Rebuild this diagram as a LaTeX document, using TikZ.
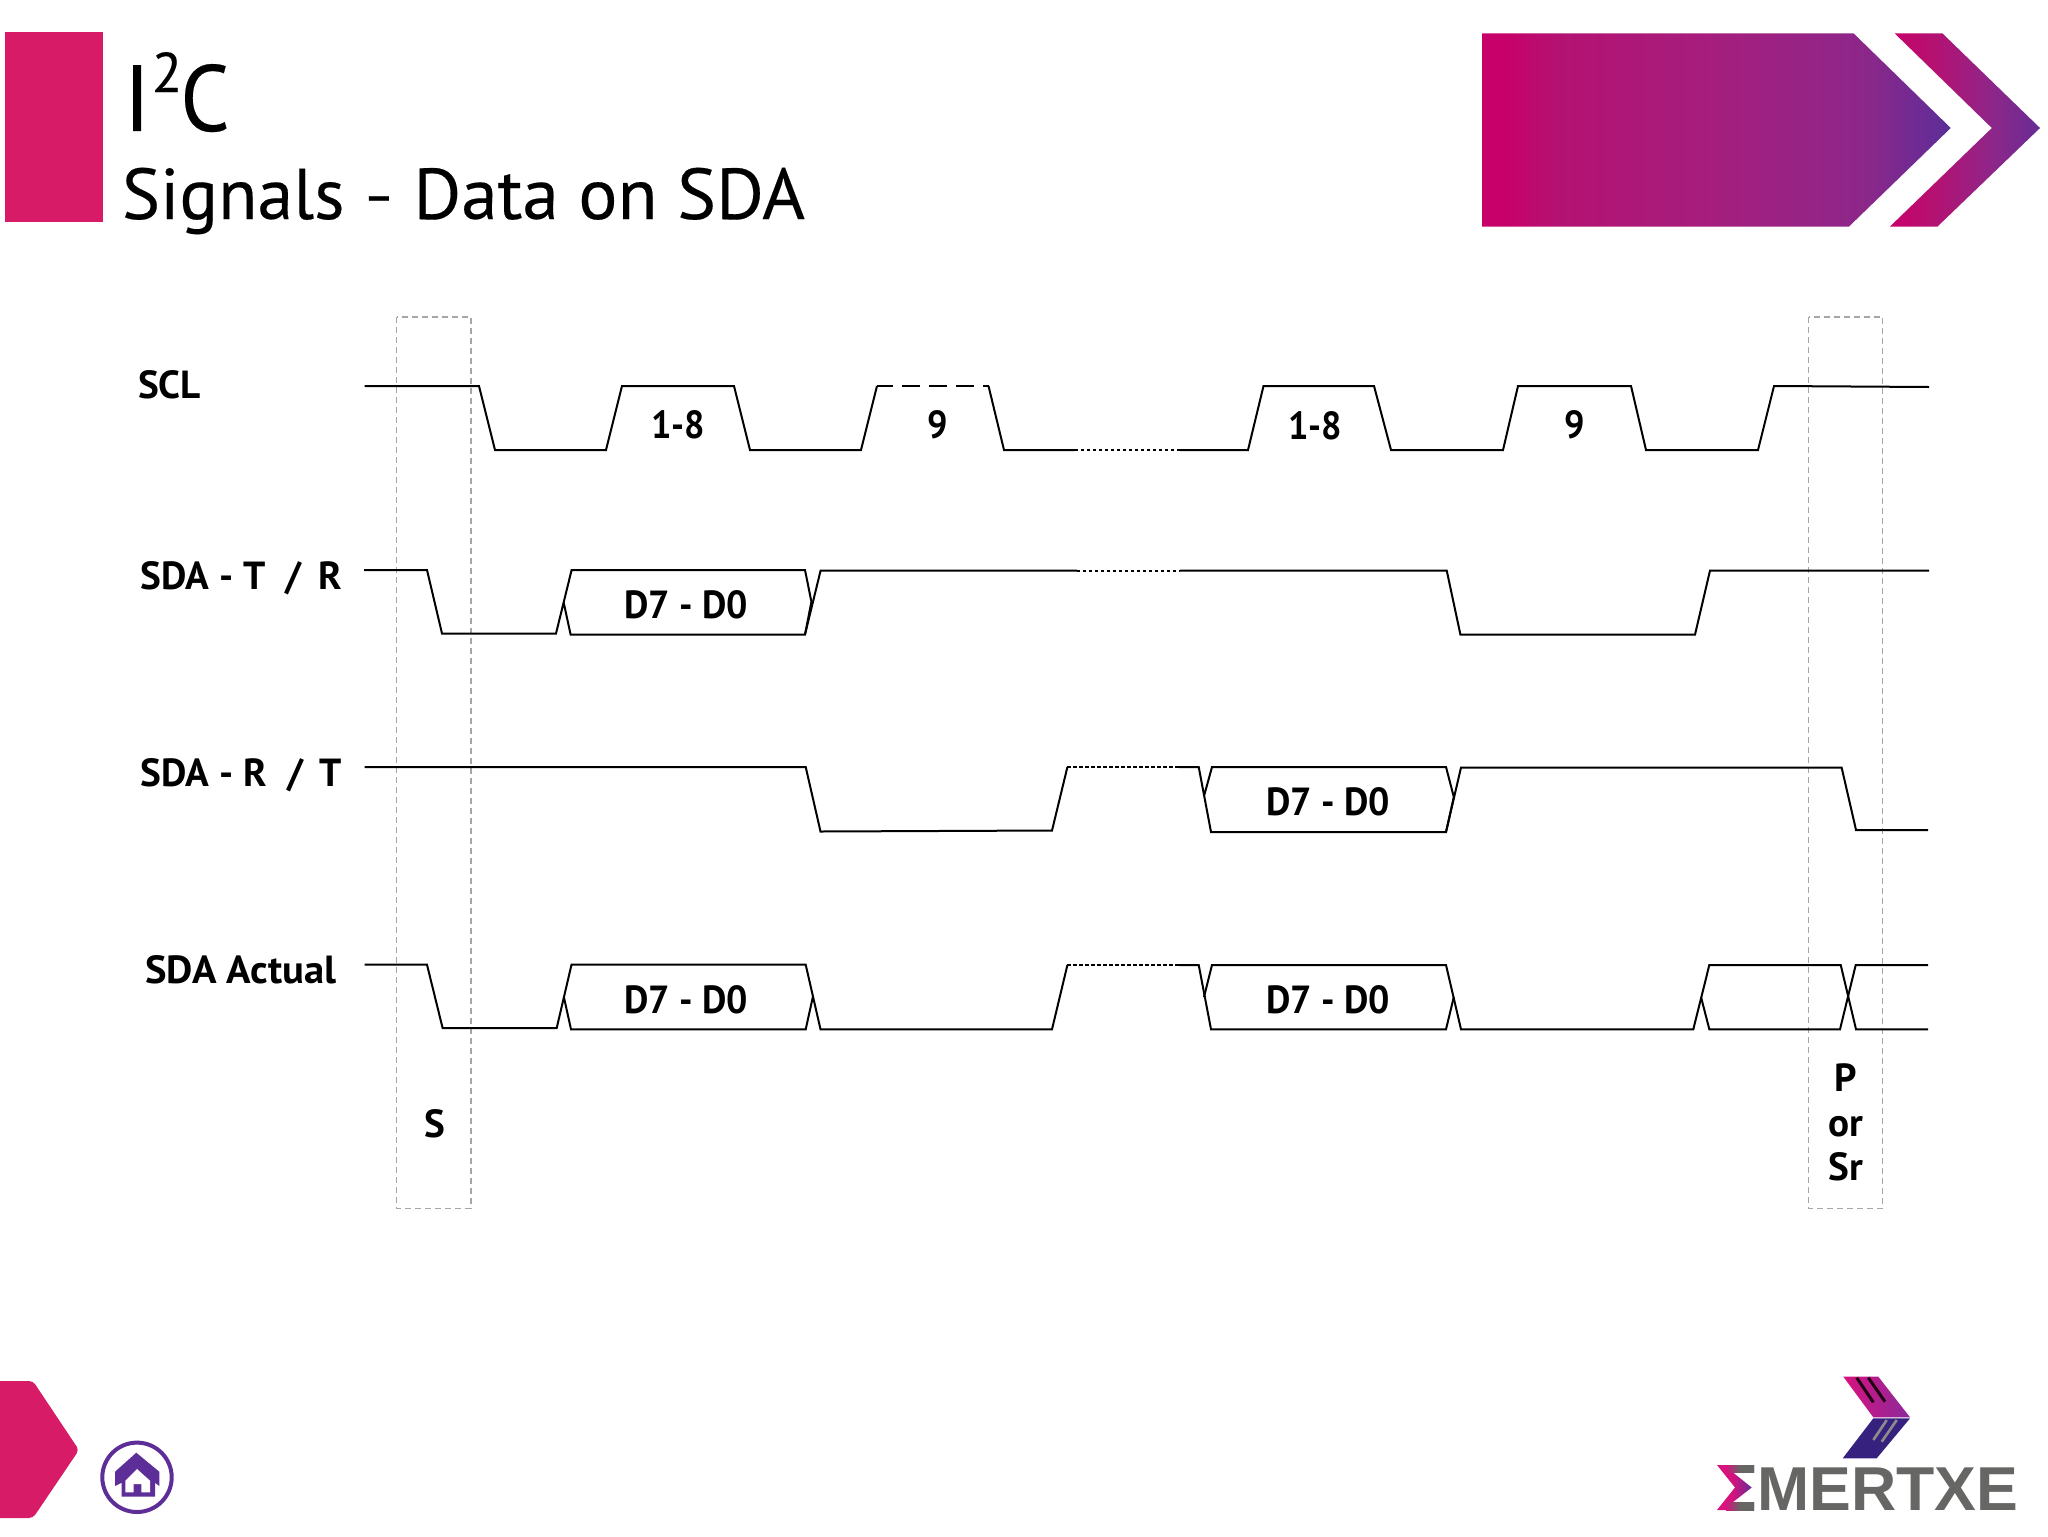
\documentclass[tikz,border=0pt]{standalone}
\usepackage{fontspec}
\setmainfont{PT Sans}
\newfontfamily\headfont[FakeBold=0.25]{PT Sans}
\usetikzlibrary{calc}
\definecolor{pinkbar}{HTML}{D81B67}
\definecolor{homeviolet}{HTML}{5E2E98}
\definecolor{logogrey}{HTML}{666664}
\definecolor{logonavy}{HTML}{36227E}
\definecolor{ba}{HTML}{C8006A}
\definecolor{bb}{HTML}{B41272}
\definecolor{bc}{HTML}{A51E7E}
\definecolor{bd}{HTML}{8C278A}
\definecolor{be}{HTML}{5B2E98}
\definecolor{bf}{HTML}{662C95}
\pgfdeclarehorizontalshading{bannerfill}{100bp}{color(0bp)=(ba); color(25bp)=(ba); color(27.5bp)=(ba); color(33bp)=(bb); color(50bp)=(bc); color(66bp)=(bd); color(75bp)=(be); color(100bp)=(be)}
\pgfdeclarehorizontalshading{chevronfill}{100bp}{color(0bp)=(ba); color(25bp)=(ba); color(40bp)=(bb); color(60bp)=(bd); color(75bp)=(bf); color(100bp)=(bf)}
\definecolor{lpa}{HTML}{D8127E}
\definecolor{lpb}{HTML}{8A2A9C}
\definecolor{lpc}{HTML}{5B2E98}
\pgfdeclarehorizontalshading{logotop}{100bp}{color(0bp)=(lpa); color(25bp)=(lpa); color(75bp)=(lpb); color(100bp)=(lpb)}
\pgfdeclarehorizontalshading{logosigma}{100bp}{color(0bp)=(lpa); color(25bp)=(lpa); color(45bp)=(lpa); color(75bp)=(lpc); color(100bp)=(lpc)}
\tikzset{
  wave/.style={draw=black,line width=1pt,line join=miter,line cap=butt},
  wavedot/.style={draw=black,line width=1pt,dash pattern=on 1.6pt off 1.4pt},
  wavedash/.style={draw=black,line width=1pt,dash pattern=on 9pt off 4.5pt,dash phase=1pt},
  window/.style={draw=black!35,line width=.55pt,dash pattern=on 3pt off 2pt},
  siglabel/.style={anchor=base west,inner sep=0pt,font=\fontsize{19.6}{22}\selectfont\bfseries},
  wavetext/.style={anchor=center,inner sep=0pt,font=\fontsize{19.6}{22}\selectfont\bfseries},
  stacktext/.style={anchor=base,inner sep=0pt,font=\fontsize{19.6}{22}\selectfont\bfseries},
  titlea/.style={anchor=base west,inner sep=0pt,font=\fontsize{47}{50}\selectfont\headfont},
  titleb/.style={anchor=base west,inner sep=0pt,font=\fontsize{36}{40}\selectfont\headfont},
}
\begin{document}
\begin{tikzpicture}[x=.5pt,y=-.5pt]
\useasboundingbox (0,0) rectangle (2048,1536);
% header
\fill[pinkbar] (5,32) rectangle (103,222);
\node[titlea] (t1) at (123,131) {I\kern.5pt\raisebox{19.5pt}{\fontsize{28}{28}\selectfont 2}\kern-1pt\scalebox{.92}[1]{C}};
\node[titleb] (t2) at (121.5,219) {Signals\kern9.5pt\raisebox{2pt}{\scalebox{.65}[.8]{–}}\kern9.5pt\scalebox{1.017}[1]{Data on SDA}};
\path[shading=bannerfill] (1482,33.5) -- (1853.7,33.5) -- (1950.7,128) -- (1849,226.5) -- (1482,226.5) -- cycle;
\path[shading=chevronfill] (1894.8,33.5) -- (1942.5,33.5) -- (2040,128) -- (1937.5,226.5) -- (1890,226.5) -- (1991.8,128) -- cycle;
% footer
\fill[pinkbar,rounded corners=2pt] (-10,1381) -- (33,1381) -- (79,1450) -- (33,1518) -- (-10,1518) -- cycle;
\draw[homeviolet,line width=2pt] (137,1477.3) circle (34.7);
\fill[homeviolet] (115,1471.7) -- (136.3,1452.7) -- (159.3,1471.7) -- (159.3,1486) -- (155,1482.7) -- (155,1496.7) -- (121.7,1496.7) -- (121.7,1482.7) -- (115,1486) -- cycle;
\fill[white] (137,1469) -- (150,1480.7) -- (150,1492.3) -- (141.3,1492.3) -- (141.3,1484) -- (133.7,1484) -- (133.7,1492.3) -- (125.3,1492.3) -- (125.3,1480.7) -- cycle;
% logo
\path[shading=logotop] (1843.3,1376.7) -- (1878.3,1376.7) -- (1910,1417.3) -- (1873.3,1417.3) -- cycle;
\fill[logonavy] (1873.3,1418.3) -- (1910,1418.3) -- (1876.7,1458.3) -- (1842.7,1458.3) -- cycle;
\draw[black!85!lpa,line width=1.5pt] (1856.7,1377.7) -- (1873.3,1402.3) (1868.3,1377.7) -- (1885,1401.7);
\draw[black!45,line width=1.3pt] (1896.7,1420) -- (1881.7,1441.7) (1886.7,1420) -- (1873.3,1440);
\path[shading=logosigma] (1717,1465) -- (1754,1465) -- (1754,1472.5) -- (1733,1472.5) -- (1751.7,1487.5) -- (1733,1502) -- (1754,1502) -- (1754,1510) -- (1717,1510) -- (1735,1487.5) -- cycle;
\path[left color=lpa,right color=logogrey,middle color=logogrey] (1726,1465) rectangle (1754,1472.5);
\path[left color=lpa,right color=logogrey,middle color=logogrey] (1726,1502) rectangle (1754,1510);
\node[anchor=base west,inner sep=0pt,text=logogrey,font=\fontsize{31}{34}\selectfont\fontspec{Liberation Sans}\bfseries] (logo) at (1757,1510.7) {\scalebox{1.01}[1]{MERTXE}};
% windows
\draw[window] (396.6,317) rectangle (471,1208.3);
\draw[window] (1808.7,317) rectangle (1882.8,1208.3);
% SCL
\draw[wave] (364.5,386) -- (479,386) -- (495,450) -- (606,450) -- (622,386) -- (734,386) -- (750,450) -- (861,450) -- (877,386);
\draw[wavedash] (877,386) -- (988.5,386);
\draw[wave] (988.5,386) -- (1004,450) -- (1075,450);
\draw[wavedot] (1075,450) -- (1180,450);
\draw[wave] (1180,450) -- (1248,450) -- (1263.5,386) -- (1374,386) -- (1391,450) -- (1503,450) -- (1518,386) -- (1631,386) -- (1646,450) -- (1758,450) -- (1774,386) -- (1929,387);
% SDA T/R
\draw[wave] (364,570) -- (427,570) -- (442,633.5) -- (556,633.5) -- (571.6,570) -- (805,570) -- (811.4,601.7) -- (805,634.5) -- (570.6,634.5) -- (563.5,601.7);
\draw[wave] (805,634.5) -- (820.6,570.5) -- (1077,570.5);
\draw[wavedot] (1077,570.5) -- (1180,570.5);
\draw[wave] (1180,570.5) -- (1446.7,570.5) -- (1460.4,634.6) -- (1695,634.6) -- (1710,570.5) -- (1929,570.5);
% SDA R/T
\draw[wave] (364.7,767) -- (805.7,767) -- (820.5,831.5) -- (1052,830.5) -- (1067.4,767);
\draw[wavedot] (1067.4,767) -- (1179,767);
\draw[wave] (1179,767) -- (1198.7,767) -- (1211,832) -- (1446,832) -- (1453.8,797) -- (1446,767) -- (1212,767) -- (1204,796);
\draw[wave] (1446,832) -- (1461,767.5) -- (1841.6,767.5) -- (1856,830) -- (1928,830);
% SDA Actual
\draw[wave] (364.7,964.7) -- (427,964.7) -- (442.6,1028) -- (556.7,1028) -- (571.5,964.7) -- (805.7,964.7) -- (820.5,1029.3) -- (1052,1029.3) -- (1067.4,965);
\draw[wave] (563.8,996.7) -- (571,1029.3) -- (805.7,1029.3) -- (812.9,996.7);
\draw[wavedot] (1067.4,965) -- (1179,965);
\draw[wave] (1179,965) -- (1198.7,965) -- (1211,1029.3) -- (1446,1029.3) -- (1453.8,997);
\draw[wave] (1204,997) -- (1212,965) -- (1446,965) -- (1461,1029.3) -- (1693.3,1029.3) -- (1709.3,965) -- (1840.7,965) -- (1856,1029.3) -- (1928,1029.3);
\draw[wave] (1701,997) -- (1709.3,1029.3) -- (1840,1029.3) -- (1855.7,965) -- (1928,965);
% labels
\node[siglabel] (lscl) at (137.7,398.7) {SCL};
\node[siglabel] (ltr) at (140.5,589.5) {SDA - T\ \ / \,R};
\node[siglabel] (lrt) at (140.5,786) {SDA - R\ \ / \,T};
\node[siglabel] (lact) at (145,983.7) {\scalebox{1.035}[1]{SDA Actual}};
\node[wavetext] (b1) at (678,425) {\scalebox{.92}[1]{1-8}};
\node[wavetext] (b2) at (938,425) {\scalebox{.92}[1]{9}};
\node[wavetext] (b3) at (1315,425.5) {\scalebox{.92}[1]{1-8}};
\node[wavetext] (b4) at (1574.5,425) {\scalebox{.92}[1]{9}};
\node[wavetext] (d1) at (686,604.5) {\scalebox{.96}[1]{D7 - D0}};
\node[wavetext] (d2) at (1328,802) {\scalebox{.96}[1]{D7 - D0}};
\node[wavetext] (d3) at (686,999.5) {\scalebox{.96}[1]{D7 - D0}};
\node[wavetext] (d4) at (1328,999.5) {\scalebox{.96}[1]{D7 - D0}};
\node[wavetext] (s) at (434.5,1124) {S};
\node[stacktext] (p) at (1846,1091) {P};
\node[stacktext] (or) at (1846,1136) {or};
\node[stacktext] (sr) at (1846,1180) {Sr};
\end{tikzpicture}
\end{document}
